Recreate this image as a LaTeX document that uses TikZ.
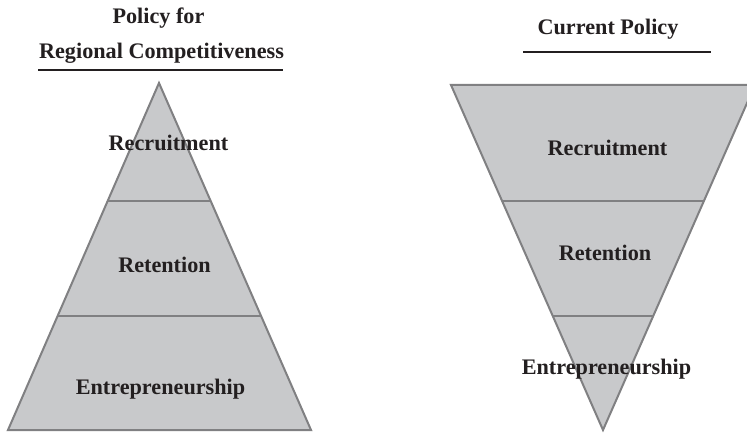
\documentclass[tikz,border=0pt]{standalone}
\usepackage{fontspec}
\setmainfont{Liberation Serif}
\usetikzlibrary{calc}
\definecolor{bandfill}{RGB}{200,201,203}
\definecolor{bandline}{RGB}{128,128,130}
\definecolor{ink}{RGB}{35,31,32}
\tikzset{
  band/.style={fill=bandfill, draw=bandline, line width=2pt, line join=miter},
  sep/.style={draw=bandline, line width=2pt},
  lbl/.style={anchor=base, inner sep=0pt, text=ink, font=\fontsize{22.2}{26}\selectfont\bfseries},
  ttl/.style={anchor=base, inner sep=0pt, text=ink, font=\fontsize{22.2}{26}\selectfont\bfseries},
  uline/.style={draw=ink, line width=1.8pt}
}
\begin{document}
\begin{tikzpicture}[x=1pt, y=-1pt]
\useasboundingbox (0,0) rectangle (747,433);
\fill[white] (0,0) rectangle (747,433);
% left pyramid
\coordinate (LA) at (159,83);
\coordinate (LL) at (8,430);
\coordinate (LR) at (311,430);
\draw[band] (LA) -- (LL) -- (LR) -- cycle;
\draw[sep] ($(LA)!0.340!(LL)$) coordinate (l1a) -- ($(LA)!0.340!(LR)$) coordinate (l1b);
\draw[sep] ($(LA)!0.671!(LL)$) coordinate (l2a) -- ($(LA)!0.671!(LR)$) coordinate (l2b);
% right inverted pyramid
\begin{scope}
\clip (0,0) rectangle (747,433);
\coordinate (RL) at (451,85);
\coordinate (RR) at (755,85);
\coordinate (RA) at (603,430);
\draw[band] (RL) -- (RR) -- (RA) -- cycle;
\draw[sep] ($(RL)!0.336!(RA)$) coordinate (r1a) -- ($(RR)!0.336!(RA)$) coordinate (r1b);
\draw[sep] ($(RL)!0.670!(RA)$) coordinate (r2a) -- ($(RR)!0.670!(RA)$) coordinate (r2b);
\end{scope}
% titles
\node[ttl] (t1) at (158.5,24) {Policy for};
\node[ttl] (t2) at (161.5,59) {Regional Competitiveness};
\coordinate (u1a) at (38,70);
\coordinate (u1b) at (283,70);
\draw[uline] (u1a) -- (u1b);
\node[ttl] (t3) at (608,35) {Current Policy};
\coordinate (u2a) at (523,52);
\coordinate (u2b) at (711,52);
\draw[uline] (u2a) -- (u2b);
% labels left
\node[lbl] (lrec) at (168.5,150) {Recruitment};
\node[lbl] (lret) at (164.5,272) {Retention};
\node[lbl] (lent) at (160.5,394) {Entrepreneurship};
% labels right
\node[lbl] (rrec) at (607.5,156) {Recruitment};
\node[lbl] (rret) at (605,260) {Retention};
\node[lbl] (rent) at (606.5,374) {Entrepreneurship};
\end{tikzpicture}
\end{document}
